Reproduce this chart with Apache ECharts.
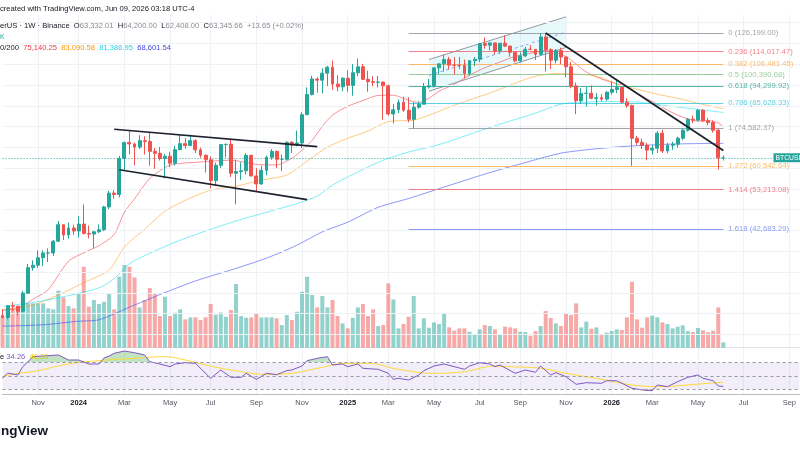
<!DOCTYPE html>
<html>
<head>
<meta charset="utf-8">
<script src="https://cdn.jsdelivr.net/npm/echarts@6/dist/echarts.min.js"></script>
<style>
html,body{margin:0;padding:0;background:#ffffff;}
#chart{width:800px;height:450px;}
</style>
</head>
<body>
<div id="chart"></div>
<script>
// ---------- weekly time axis (Monday bars) ----------
const weekCount = 158;
const categories = [];
for (let i = 0; i < weekCount; i++) {
  const d = new Date(Date.UTC(2023, 8, 18) + i * 7 * 86400000);
  categories.push(d.toISOString().slice(0, 10));
}
const monthNames = ['Jan','Feb','Mar','Apr','May','Jun','Jul','Aug','Sep','Oct','Nov','Dec'];

// ---------- BTCUSD weekly candles [open, high, low, close] ----------
const ohlc = [
[26530,27480,26130,26250],[26250,28050,25990,27970],[27970,28580,27160,27920],[27920,27990,26540,27150],
[27150,30380,26970,29990],[29990,35280,29880,34530],[34530,35980,33940,35020],[35020,38000,34520,36490],
[36490,37980,34800,37450],[37450,38420,35630,37460],[37460,40250,36850,39970],[39970,44700,39800,43780],
[43780,43800,40220,41370],[41370,44300,40550,42990],[42990,43800,41400,42280],[42280,45900,40750,43930],
[43930,49000,41500,41730],[41730,43580,40600,41580],[41580,42250,38550,42120],[42120,43880,41800,42580],
[42580,48590,42260,48300],[48300,52820,47700,52140],[52140,52990,50520,51730],[51730,64000,50900,63130],
[63130,69200,59000,68960],[68960,73780,64550,68370],[68370,68920,60760,67210],[67210,71770,66500,69650],
[69650,71340,64490,69360],[69360,72800,60660,65660],[65660,66870,59600,64940],[64940,67230,62400,63110],
[63110,64730,56550,63890],[63890,65500,60180,61480],[61480,67700,60750,66270],[66270,71980,66060,68500],
[68500,70600,66600,67760],[67760,71990,67600,69650],[69650,70200,65080,66200],[66200,66990,63380,64260],
[64260,64500,58400,62680],[62680,63860,53485,55850],[55850,61700,54260,60800],[60800,68370,59900,68160],
[68160,68480,63450,68260],[68260,70080,57000,58160],[58160,62750,49000,58700],[58700,61800,56080,58970],
[58970,65000,57780,64220],[64220,64480,57200,57300],[57300,59800,52550,54840],[54840,60670,54580,59130],
[59130,64130,57500,63580],[63580,66500,62700,65600],[65600,66000,59830,62820],[62820,64480,58890,62850],
[62850,69400,62430,69030],[69030,69520,65050,67930],[67930,73620,67500,68775],[68775,81500,66830,80370],
[80370,93480,80220,89850],[89850,99590,89380,97900],[97900,98870,90800,97280],[97280,103900,90500,101100],
[101100,105250,94150,104460],[104460,108350,92200,95190],[95190,99950,91500,93740],[93740,98900,91500,98360],
[98360,102720,91200,94500],[94500,106300,89260,101330],[101330,109590,99500,104700],[104700,106460,97400,97700],
[97700,102500,91230,96460],[96460,99500,94090,96120],[96120,99500,93400,96270],[96270,96500,78250,94270],
[94270,95000,80000,80700],[80700,85300,76600,82580],[82580,87450,81130,86080],[86080,88800,81650,82390],
[82390,88500,77080,78370],[78370,86100,74508,83760],[83760,86500,83100,85180],[85180,95760,85150,93750],
[93750,97900,92800,94280],[94280,104300,93380,104100],[104100,106700,100720,106450],[106450,111980,102000,109000],
[109000,110700,103100,105700],[105700,110400,100370,105600],[105600,110600,103400,105550],[105550,108950,98200,100960],
[100960,108500,99600,108350],[108350,110500,105100,109200],[109200,119500,107400,119080],[119080,123200,115700,117950],
[117950,120250,114700,119500],[119500,119800,112000,114200],[114200,119400,112700,119300],[119300,124470,116800,117400],
[117400,117600,110700,113500],[113500,113600,107300,108250],[108250,113400,107250,111200],[111200,116800,110600,115350],
[115350,118000,114700,115300],[115300,115400,108650,112200],[112200,125700,111300,123500],[123500,126199,102000,115100],
[115100,116000,103500,108600],[108600,115500,106700,114500],[114500,116400,106300,110500],[110500,110800,98900,104700],
[104700,107500,93000,94200],[94200,96000,80600,86800],[86800,93100,85300,90400],[90400,94000,84000,90500],
[90500,94500,87500,88000],[88000,90500,84500,88300],[88300,90000,86500,87600],[87600,91500,86800,91000],
[91000,96600,89800,92400],[92400,97000,90500,93400],[93400,93800,85500,86100],[86100,88000,83500,84500],
[84500,85000,60600,70600],[70600,71500,68000,69000],[69000,70500,66500,67900],[67900,68800,62500,66100],
[66100,68000,64500,66800],[66800,73500,65000,72600],[72600,74000,65000,65800],[65800,68800,65000,67900],
[67900,69200,66200,68300],[68300,71200,67000,70600],[70600,74500,69800,73800],[73800,79000,73200,78400],
[78400,80000,76800,78000],[78000,83000,77500,82400],[82400,82900,77200,77700],[77700,79000,75800,77000],
[77000,77900,72800,73800],[73800,74300,59400,63332.01],[63332.01,64200.00,62408.00,63345.66]
];

// ---------- weekly volume (relative units) ----------
const volume = [
93,118,118,118,165,133,133,133,133,118,115,171,151,125,118,161,243,123,143,131,
138,161,115,213,248,243,211,121,143,179,161,95,153,95,105,115,85,91,91,83,
91,131,99,106,93,113,191,95,90,91,101,91,91,91,88,68,98,83,108,168,
213,158,121,155,121,143,95,73,58,90,121,131,95,115,65,68,193,145,58,
71,93,155,58,88,60,76,71,102,61,51,58,58,48,38,55,68,65,55,41,
63,61,58,48,47,36,50,65,110,89,73,65,103,98,133,61,78,57,61,38,
45,50,55,53,91,198,85,60,91,96,91,76,71,58,63,67,50,47,59,52,
46,51,121,16
];

// ---------- moving averages [weekIndex, price] ----------
const ema20 = [[0,27300],[3,27600],[6,29000],[9,30600],[13,35800],[16,37500],[19,39000],[22,41500],[24,46900],[26,50500],[29,56500],[33,60800],[39,61900],[45,62500],[50,61100],[54,60900],[57,63200],[59,66100],[61,69800],[63,75400],[65,80200],[68,84200],[71,86900],[74,89400],[77,89500],[80,87000],[82,86000],[84,88000],[86,91500],[89,95100],[92,100000],[95,104100],[98,107500],[101,110900],[104,112900],[107,114600],[109,113300],[111,110900],[113,106300],[115,101700],[118,97900],[121,95300],[123,93700],[125,90500],[128,86500],[131,82400],[134,79300],[137,77600],[139,77800],[141,76800],[142,75140.25]];
const ema50 = [[0,27400],[6,28100],[12,30100],[16,31800],[21,34100],[24,38700],[28,42700],[32,47200],[36,50100],[41,53000],[46,54200],[51,56000],[56,57600],[60,62200],[64,67200],[68,70600],[72,73400],[76,77400],[81,78000],[85,81000],[89,84700],[93,88000],[97,91500],[101,95700],[105,99400],[109,100900],[113,100600],[117,99400],[121,95300],[125,92500],[129,90000],[133,88000],[137,85600],[142,83090.58]];
const ema100 = [[0,27900],[6,28500],[13,29600],[19,30900],[22,32500],[25,35300],[29,37400],[35,40200],[42,43100],[46,44700],[52,46900],[58,49200],[62,51300],[65,54500],[70,58600],[75,62500],[80,65400],[85,67600],[90,70700],[95,74200],[100,77600],[105,81100],[110,85200],[115,86200],[120,86400],[125,86200],[130,84700],[136,83000],[142,81386.95]];
const ema200 = [[0,25000],[8,25200],[15,25700],[19,25900],[26,28100],[32,30100],[38,32100],[45,34100],[52,36400],[58,39100],[63,42100],[68,44400],[74,48200],[80,50600],[88,54400],[96,58400],[104,62200],[110,65000],[116,66400],[122,67400],[130,68200],[136,68500],[142,68601.54]];

// ---------- RSI(14) and its moving average [weekIndex, value] ----------
const rsi = [[0,46.3],[1,54.1],[3,51.2],[4,63.5],[6,78.3],[11,80.8],[13,73.4],[15,73.4],[17,67.5],[19,67.5],[20,76.4],[21,79.3],[22,83.3],[24,86.7],[26,84.2],[28,80.8],[29,70.9],[31,67.5],[33,63.5],[34,67.5],[36,69.4],[38,68.5],[41,46.3],[43,58.6],[45,47.8],[47,47.8],[48,53.7],[50,44.8],[52,53.7],[54,51.6],[56,57.6],[57,58.6],[59,64.5],[60,72.4],[62,75.9],[64,78.3],[65,66.0],[67,67.5],[68,63.5],[70,67.5],[71,61.1],[74,59.6],[76,53.7],[77,44.8],[78,46.3],[80,43.8],[82,51.2],[83,57.6],[85,64.5],[87,67.5],[89,63.5],[91,59.6],[92,64.5],[94,69.4],[96,67.5],[97,63.5],[98,66.0],[101,53.7],[103,58.6],[105,55.2],[106,64.5],[108,51.2],[109,54.6],[111,48.7],[113,37.4],[115,39.8],[118,38.9],[119,42.7],[121,42.7],[124,31.5],[126,29.0],[128,27.9],[129,36.4],[131,33.9],[133,41.3],[135,47.8],[137,51.2],[138,46.3],[140,42.7],[141,34.9],[142,34.26]];
const rsiMA = [[0,48.7],[3,53.7],[6,56.1],[13,67.5],[19,72.4],[26,75.9],[32,78.3],[36,73.4],[40,66.0],[45,58.6],[52,52.2],[57,53.7],[62,61.1],[68,68.5],[72,68.5],[78,59.6],[85,53.7],[91,56.1],[97,64.5],[100,63.5],[106,61.1],[111,53.7],[118,44.8],[124,36.4],[130,33.9],[135,36.4],[139,38.9],[142,40.39]];
const rsiLevels = [70, 50, 30];

// ---------- Fibonacci levels ----------
const fibRatios = ['0','0.236','0.382','0.5','0.618','0.786','1','1.272','1.414','1.618'];
const fibPrices = [126199.00,114017.47,106481.45,100390.68,94299.92,85628.33,74582.37,60542.64,53213.08,42683.29];
const fibColors = ['#8a8d96','#f0616b','#fba94c','#7fc283','#2ba18f','#35c6de','#8a8d96','#fbab3e','#f0616b','#6f86f2'];
const fibStartWeek = 80, fibEndWeek = 142;

// ---------- drawings [weekIndex, price] ----------
const flagUpper = [[22,74200],[62,67400]];
const flagLower = [[23,59300],[60,50300]];
const downTrend = [[107,126199],[142,66000]];
const channelUpper = [[84,109000],[111,138000]];
const channelLower = [[84,91500],[111,116500]];
const channelMid = [[84,99870],[111,126800]];

// faint price-scale grid levels
const gridPrices = [133600,119200,106200,94700,84400,75300,67100,59800,53300,47600,42400,37800,33700,30000,26800,23900];
const lastClose = 63345.66;

// ---------- helpers ----------
function isLabelWeek(v) {
  const d = new Date(v + 'T00:00:00Z');
  return d.getUTCDate() <= 7 && d.getUTCMonth() % 2 === 0;
}
function labelText(v) {
  const d = new Date(v + 'T00:00:00Z');
  const m = d.getUTCMonth();
  return m === 0 ? '{y|' + d.getUTCFullYear() + '}' : monthNames[m];
}
function fmt(p) { return p.toLocaleString('en-US', {minimumFractionDigits: 2, maximumFractionDigits: 2}); }

const FONT = '"Liberation Sans", Arial, sans-serif';
const UP = '#26a69a', DOWN = '#ef5350';

const chart = echarts.init(document.getElementById('chart'), null, {renderer: 'canvas'});

const lineSeries = (data, color, width, extra) => Object.assign({
  type: 'line', xAxisIndex: 0, yAxisIndex: 0, data: data, symbol: 'none',
  silent: true, lineStyle: {color: color, width: width}, z: 3, animation: false
}, extra || {});

const option = {
  animation: false,
  backgroundColor: '#ffffff',
  grid: [
    {left: 2.54, width: 796.93, top: 15, height: 332.7},
    {left: 2.54, width: 796.93, top: 348, height: 46}
  ],
  xAxis: [
    {type: 'category', gridIndex: 0, data: categories, boundaryGap: false,
     axisLabel: {show: false}, axisTick: {show: false},
     axisLine: {show: true, lineStyle: {color: '#e0e3eb'}},
     splitLine: {show: true, interval: (i, v) => isLabelWeek(v), lineStyle: {color: '#eef1f6'}}},
    {type: 'category', gridIndex: 1, data: categories, boundaryGap: false,
     axisTick: {show: false},
     axisLine: {show: true, lineStyle: {color: '#b8bbc4'}},
     splitLine: {show: true, interval: (i, v) => isLabelWeek(v), lineStyle: {color: '#eef1f6'}},
     axisLabel: {show: true, interval: (i, v) => isLabelWeek(v), formatter: labelText,
       fontSize: 7.5, color: '#555863', fontFamily: FONT, margin: 5,
       rich: {y: {fontSize: 7.5, fontWeight: 'bold', color: '#131722', fontFamily: FONT}}}}
  ],
  yAxis: [
    {type: 'log', logBase: 10, gridIndex: 0, min: 22201, max: 139388, show: false, position: 'right'},
    {type: 'value', gridIndex: 0, min: 0, max: 998, show: false, position: 'left'},
    {type: 'value', gridIndex: 1, min: 23.04, max: 91.19, show: false}
  ],
  visualMap: [{
    type: 'piecewise', show: false, seriesIndex: 15, dimension: 1,
    pieces: [
      {gt: 70, color: 'rgba(76,175,80,0.35)'},
      {lt: 30, color: 'rgba(242,54,69,0.25)'},
      {gte: 30, lte: 70, color: 'rgba(0,0,0,0)'}
    ]
  }],
  series: [
    // 0: price grid lines
    {type: 'line', xAxisIndex: 0, yAxisIndex: 0, data: [], silent: true, z: 0,
     markLine: {silent: true, symbol: ['none','none'], label: {show: false}, animation: false,
       lineStyle: {color: '#eef1f6', width: 1, type: 'solid'},
       data: gridPrices.map(p => ({yAxis: p}))}},
    // 1: volume
    {type: 'bar', xAxisIndex: 0, yAxisIndex: 1, silent: true, z: 1, barWidth: 4,
     data: volume.map((v, i) => ({value: v, itemStyle: {color: ohlc[i][3] >= ohlc[i][0] ? 'rgba(38,166,154,0.5)' : 'rgba(239,83,80,0.5)'}}))},
    // 2: channel fill
    {type: 'custom', xAxisIndex: 0, yAxisIndex: 0, silent: true, z: 1, data: [[channelUpper[0][0], channelUpper[0][1]]],
     renderItem: (params, api) => {
       const pts = [api.coord(channelUpper[0]), api.coord(channelUpper[1]), api.coord(channelLower[1]), api.coord(channelLower[0])];
       return {type: 'polygon', shape: {points: pts}, style: {fill: 'rgba(0,188,212,0.09)'}};
     }},
    // 3: fib levels
    {type: 'line', xAxisIndex: 0, yAxisIndex: 0, data: [], silent: true, z: 2,
     markLine: {silent: true, symbol: ['none','none'], animation: false,
       data: fibPrices.map((p, k) => [
         {coord: [fibStartWeek, p], lineStyle: {color: fibColors[k], width: 1, type: 'solid', opacity: 0.8},
          label: {show: true, position: 'end', distance: 5, formatter: fibRatios[k] + ' (' + fmt(p) + ')',
                  color: fibColors[k], fontSize: 7.7, fontFamily: FONT}},
         {coord: [fibEndWeek, p]}
       ])}},
    // 4-7: moving averages
    lineSeries(ema20, 'rgba(242,54,69,0.55)', 1, {smooth: 0.25}),
    lineSeries(ema50, 'rgba(255,152,0,0.5)', 1, {smooth: 0.25}),
    lineSeries(ema100, 'rgba(0,220,240,0.5)', 1, {smooth: 0.25}),
    lineSeries(ema200, 'rgba(63,81,245,0.6)', 1, {smooth: 0.25}),
    // 8: candles
    {type: 'candlestick', xAxisIndex: 0, yAxisIndex: 0, silent: true, z: 5, barWidth: 3.4,
     data: ohlc.map(r => [r[0], r[3], r[2], r[1]]),
     itemStyle: {color: UP, color0: DOWN, borderColor: UP, borderColor0: DOWN, borderWidth: 1},
     markLine: {silent: true, symbol: ['none','none'], animation: false, label: {show: false},
       lineStyle: {color: '#26a69a', width: 1, type: [1, 2]}, data: [{yAxis: lastClose}]},
     markPoint: {silent: true, animation: false,
       data: [{coord: [weekCount - 1, lastClose], symbol: 'rect', symbolSize: [52, 9], itemStyle: {color: '#26a69a'},
               label: {show: true, position: 'insideLeft', distance: 2, formatter: 'BTCUSD', color: '#ffffff', fontSize: 6.8, fontFamily: FONT}}]}},
    // 9-14: drawings
    lineSeries(channelUpper, '#9598a1', 1, {z: 4}),
    lineSeries(channelLower, '#9598a1', 1, {z: 4}),
    lineSeries(channelMid, 'rgba(41,98,255,0.55)', 1, {z: 4, lineStyle: {color: 'rgba(41,98,255,0.55)', width: 1, type: [3, 3]}}),
    lineSeries(flagUpper, '#1e222d', 1.6, {z: 6}),
    lineSeries(flagLower, '#1e222d', 1.6, {z: 6}),
    lineSeries(downTrend, '#1e222d', 1.8, {z: 6}),
    // 15: RSI overbought / oversold fill
    {type: 'line', xAxisIndex: 1, yAxisIndex: 2, data: rsi, symbol: 'none', silent: true, z: 2,
     lineStyle: {width: 0, opacity: 0}, areaStyle: {origin: 70, opacity: 1}},
    // 16: RSI band + levels
    {type: 'line', xAxisIndex: 1, yAxisIndex: 2, data: [], silent: true, z: 1,
     markArea: {silent: true, itemStyle: {color: 'rgba(126,87,194,0.1)'}, data: [[{yAxis: rsiLevels[2]}, {yAxis: rsiLevels[0]}]]},
     markLine: {silent: true, symbol: ['none','none'], label: {show: false}, animation: false,
       lineStyle: {color: '#9598a1', width: 1, type: [3, 3]}, data: rsiLevels.map(v => ({yAxis: v}))}},
    // 17: RSI MA
    {type: 'line', xAxisIndex: 1, yAxisIndex: 2, data: rsiMA, symbol: 'none', silent: true, z: 3, smooth: 0.4,
     lineStyle: {color: '#fdd835', width: 1}},
    // 18: RSI
    {type: 'line', xAxisIndex: 1, yAxisIndex: 2, data: rsi, symbol: 'none', silent: true, z: 4,
     lineStyle: {color: '#7e57c2', width: 1}}
  ],
  graphic: [
    {type: 'text', x: 0, y: 9, z: 100, silent: true,
     style: {text: 'created with TradingView.com, Jun 09, 2026 03:18 UTC-4', font: '7.6px ' + FONT, fill: '#131722', verticalAlign: 'middle'}},
    {type: 'text', x: 0, y: 26, z: 100, silent: true,
     style: {text: '{d|erUS · 1W · Binance}  {d|O}{v|63,332.01}  {d|H}{v|64,200.00}  {d|L}{v|62,408.00}  {d|C}{v|63,345.66}  {v|+13.65 (+0.02%)}',
       font: '7.6px ' + FONT, verticalAlign: 'middle',
       rich: {d: {fill: '#131722', font: '7.6px ' + FONT}, v: {fill: '#8a8d96', font: '7.6px ' + FONT}}}},
    {type: 'text', x: 0, y: 37, z: 100, silent: true,
     style: {text: 'K', font: '7px ' + FONT, fill: '#26a69a', verticalAlign: 'middle'}},
    {type: 'text', x: 0, y: 48, z: 100, silent: true,
     style: {text: '{d|0/200}  {r|75,140.25}  {o|83,090.58}  {c|81,386.95}  {b|68,601.54}',
       font: '7.6px ' + FONT, verticalAlign: 'middle',
       rich: {d: {fill: '#131722'}, r: {fill: '#f23645'}, o: {fill: '#ff9800'}, c: {fill: '#1fd2ea'}, b: {fill: '#3f48e0'}}}},
    {type: 'text', x: 0, y: 357, z: 100, silent: true,
     style: {text: '{d|e} {p|34.26}  {y|40.39}', font: '7.6px ' + FONT, verticalAlign: 'middle',
       rich: {d: {fill: '#131722'}, p: {fill: '#7e57c2'}, y: {fill: '#e6c200'}}}},
    {type: 'text', x: 48, y: 431, z: 100, silent: true,
     style: {text: 'TradingView', font: 'bold 13.5px ' + FONT, fill: '#131722', align: 'right', verticalAlign: 'middle'}}
  ]
};
chart.setOption(option);
</script>
</body>
</html>
